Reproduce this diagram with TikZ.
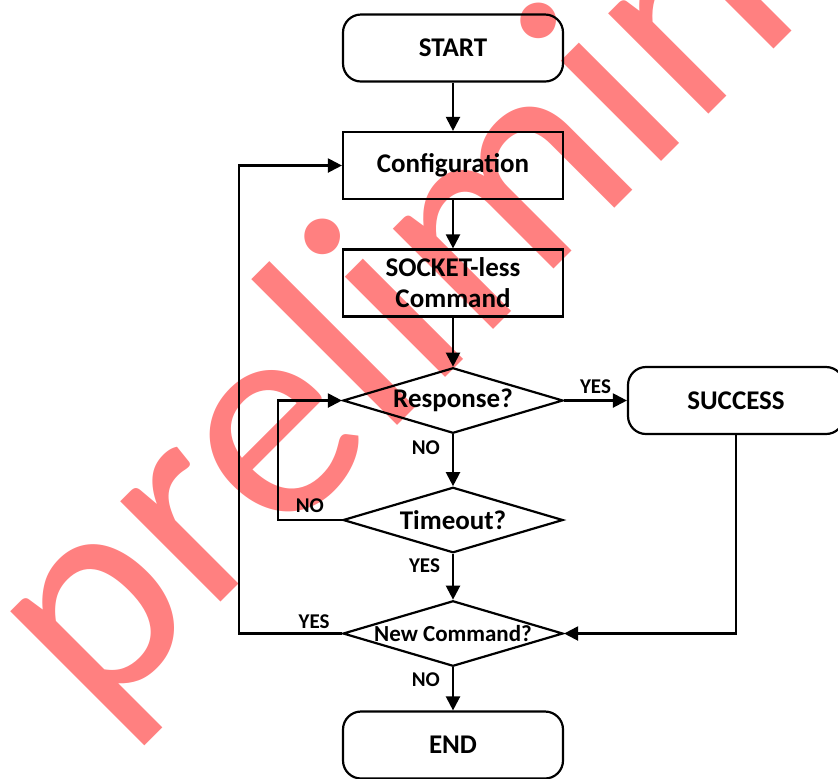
\documentclass[tikz,border=0pt]{standalone}
\usepackage{fontspec}
\setmainfont{Carlito}
\usetikzlibrary{
  positioning,
  arrows.meta,
  shapes.geometric
}

\begin{document}
\begin{tikzpicture}[
    x=0.5pt,y=-0.5pt,
    auto,node distance=58.75pt,
    line width=1.1pt,
    termNode/.style={draw,rounded corners=9pt,minimum width=110pt,minimum height=33.5pt,font=\fontsize{13.5}{15.5}\selectfont\bfseries},
    procNode/.style={draw,minimum width=110pt,minimum height=33.5pt,align=center,font=\fontsize{13.5}{15.5}\selectfont\bfseries},
    decNode/.style={draw,diamond,aspect=3.4,inner sep=0pt,minimum width=110pt,minimum height=32.75pt,font=\fontsize{13.5}{15.5}\selectfont\bfseries},
    lblNode/.style={font=\fontsize{10.5}{12}\selectfont\bfseries,inner sep=3pt},
    wmNode/.style={text=red!50,inner sep=0pt,font=\fontsize{148.5}{150}\selectfont},
    flowArrow/.style={-{Triangle[length=7pt,width=7pt]}},
  ]
    \useasboundingbox (0,0) rectangle (838,778);

    % watermark
    \begin{scope}
      \clip (0,0) rectangle (838,778);
      \node[wmNode, rotate=45, anchor=base west] (wmark) at (96,727) {preliminary};
    \end{scope}

    % main flow
    \node[termNode] (start) at (453,48) {START};
    \node[procNode, below of=start] (config) {Configuration};
    \node[procNode, below of=config] (socket) {SOCKET-less\\Command};
    \node[decNode, below of=socket] (response) {Response?};
    \node[decNode, below of=response, node distance=59.75pt] (timeout) {Timeout?};
    \node[decNode, below of=timeout, node distance=56.75pt, font=\fontsize{11.5}{13}\selectfont\bfseries] (newcmd) {New Command?};
    \node[termNode, below of=newcmd, node distance=55.75pt] (finish) {END};
    \node[termNode, right of=response, node distance=141.5pt, minimum width=108pt] (success) {SUCCESS};

    \draw[flowArrow] (start) -- (config);
    \draw[flowArrow] (config) -- (socket);
    \draw[flowArrow] (socket) -- (response);
    \draw[flowArrow] (response) -- node[lblNode, above] {YES} (success);
    \draw[flowArrow] (response) -- node[lblNode, left=3pt, pos=0.25] {NO} (timeout);
    \draw[flowArrow] (timeout) -- node[lblNode, left=3pt, pos=0.25] {YES} (newcmd);
    \draw[flowArrow] (newcmd) -- node[lblNode, left=3pt, pos=0.28] {NO} (finish);

    % loops back
    \draw[flowArrow] (timeout.west) -- node[lblNode, above] {NO} ++(-64,0) |- (response.west);
    \draw[flowArrow] (newcmd.west) -- node[lblNode, above=-1pt, pos=0.27] {YES} ++(-103,0) |- (config.west);
    \draw[flowArrow] (success) |- (newcmd);
\end{tikzpicture}
\end{document}
